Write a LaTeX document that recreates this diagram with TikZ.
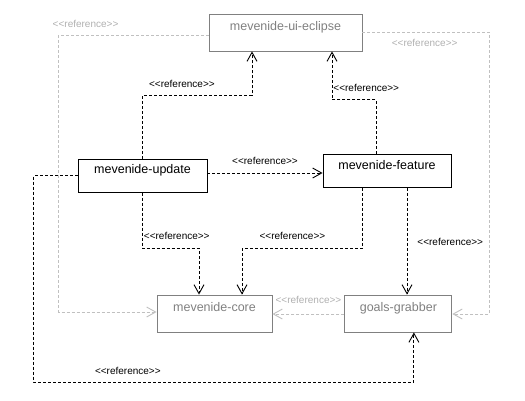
\documentclass[tikz,border=0pt]{standalone}
\usepackage{fontspec}
\setmainfont{Liberation Sans}[Ligatures=TeXOff]
\usetikzlibrary{arrows.meta, positioning}
\definecolor{boxgray}{RGB}{128,128,128}
\definecolor{linegray}{RGB}{192,192,192}
\definecolor{labelgray}{RGB}{176,176,176}

\begin{document}
\begin{tikzpicture}[x=1pt, y=-1pt,
    comp/.style={draw, line width=0.9pt, inner sep=0pt, font=\fontsize{12.5}{14}\selectfont, text height=9pt, text depth=12.5pt},
    active/.style={comp, draw=black, text=black},
    passive/.style={comp, draw=boxgray, text=boxgray},
    ref/.style={draw=black, line width=0.9pt, dash pattern=on 3pt off 2pt, -{Straight Barb[length=9pt, width=10pt]}},
    refgray/.style={ref, draw=linegray},
    lbl/.style={font=\fontsize{10}{12}\selectfont, inner sep=0pt},
    lblgray/.style={lbl, text=labelgray}]
    			\useasboundingbox (0,0) rectangle (525,400);
    			% componentes
    			\node [passive, minimum width=153pt, minimum height=37pt] (eclipse) at (285.5,32.5) {mevenide-ui-eclipse};
    			\node [active, minimum width=129pt, minimum height=33pt] (update) at (142.5,175.7) {mevenide-update};
    			\node [active, minimum width=128pt, minimum height=33pt] (feature) at (387,170.8) {mevenide-feature};
    			\node [passive, minimum width=115pt, minimum height=37pt] (core) at (214.5,313.5) {mevenide-core};
    			\node [passive, minimum width=107pt, minimum height=37pt] (grabber) [right=72pt of core] {goals-grabber};
    			
    			% referencias grises
    			\draw[refgray] ([yshift=-2.5pt]eclipse.west) -- node[lblgray, pos=0.82, above=7pt] {<<reference>>} ++(-150,0) |- ([yshift=1.5pt]core.west);
    			\draw[refgray] ([yshift=0.5pt]eclipse.east) -- node[lblgray, pos=0.49, below=7pt] {<<reference>>} ++(127,0) |- ([yshift=-0.5pt]grabber.east);
    			\draw[refgray] ([yshift=-0.5pt]grabber.west) -- node[lblgray, above=10pt] {<<reference>>} ([yshift=-0.5pt]grabber.west -| core.east);
    			
    			% referencias
    			\draw[ref] (update.north) -- ++(0,-63.2) -| node[lbl, pos=0.18, above=8pt] {<<reference>>} ([xshift=-33.5pt]eclipse.south);
    			\draw[ref] ([xshift=-11pt]feature.north) -- ++(0,-54.3) -| node[lbl, pos=0.5, anchor=south west, xshift=1pt, yshift=7.5pt] {<<reference>>} ([xshift=46.5pt]eclipse.south);
    			\draw[ref] ([yshift=2.7pt]update.east) -- node[lbl, above=8pt] {<<reference>>} ([yshift=2.7pt]update.east -| feature.west);
    			\draw[ref] (update.south) -- ++(0,55.8) node[lbl, anchor=south west, xshift=1pt, yshift=8pt] {<<reference>>} -| ([xshift=-15.5pt]core.north);
    			\draw[ref] ([xshift=-25pt]feature.south) -- ++(0,60.7) -| node[lbl, pos=0.29, above=8pt] {<<reference>>} ([xshift=27.5pt]core.north);
    			\draw[ref] ([xshift=20pt]feature.south) -- node[lbl, pos=0.51, right=10pt] {<<reference>>} ([xshift=20pt]feature.south |- grabber.north);
    			\draw[ref] (update.west) -- ++(-44,0) -- ++(0,206.3) -| node[lbl, pos=0.124, above=7pt] {<<reference>>} ([xshift=15.5pt]grabber.south);
\end{tikzpicture}
\end{document}
